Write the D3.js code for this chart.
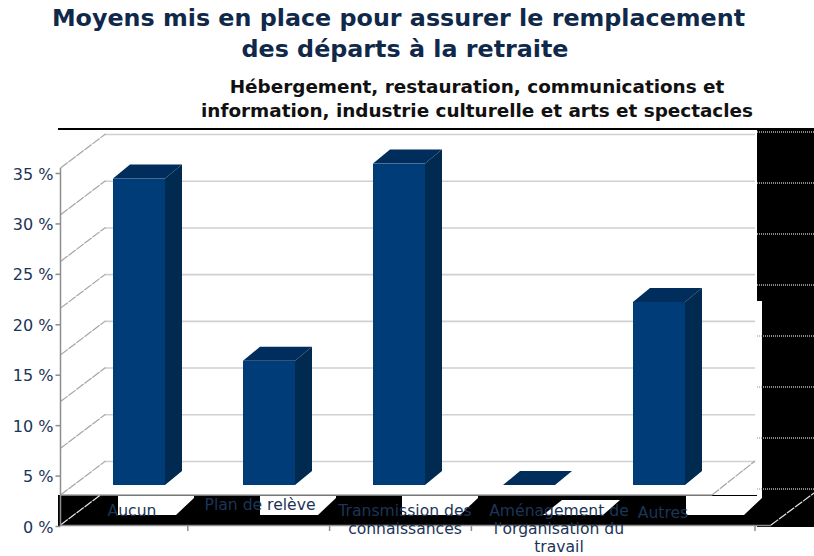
<!DOCTYPE html>
<html><head><meta charset="utf-8">
<script src="https://cdnjs.cloudflare.com/ajax/libs/d3/7.8.5/d3.min.js"></script>
<style>html,body{margin:0;padding:0;background:#fff}svg{display:block}text{font-family:"DejaVu Sans",sans-serif}</style>
</head><body><svg id="c" width="814" height="556"></svg>
<script>
const categories = ["Aucun","Plan de relève","Transmission des connaissances","Aménagement de l'organisation du travail","Autres"];
const values = [32.8,13.3,34.4,0,19.6];
const tickValues = [0,5,10,15,20,25,30,35];
const gridValues = [5,10,15,20,25,30,35,40];
const labelLines = [["Aucun"],["Plan de relève"],["Transmission des","connaissances"],["Aménagement de","l'organisation du","travail"],["Autres"]];
const labelCenter = [132,260,405,559,663];
const labelBase = [516,510,516,516,518];
const titleLines = ["Moyens mis en place pour assurer le remplacement","des départs à la retraite"];
const subtitleLines = ["Hébergement, restauration, communications et","information, industrie culturelle et arts et spectacles"];

const svg = d3.select("#c");
const navy="#003c78", sideCol="#002a50", topCol="#002d5c", textCol="#1c3557", grid="#a0a0a0";
const dx=45, dy=34;
const yFront = d3.scaleLinear().domain([0,35]).range([527,174]);
const yBar = d3.scaleLinear().domain([0,35]).range([485,158]);
const yBack = d3.scaleLinear().domain([5,40]).range([461,134]);
const yRight = d3.scaleLinear().domain([0,35]).range([540,183]);
const x = d3.scaleBand().domain(categories).range([74,724]).paddingInner(0.6).paddingOuter(0.3);
const shadowX = d3.scaleLinear().domain([0,4]).range([118,686]);
const bw = x.bandwidth(), bdx=17, bdy=14;
const floorY=495, leftX=60.5, rightX=712;

// black background blocks
svg.append("rect").attr("x",757).attr("y",129).attr("width",57).attr("height",398).attr("fill","#000");
svg.append("rect").attr("x",58).attr("y",495).attr("width",756).attr("height",31).attr("fill","#000");
svg.append("rect").attr("x",757).attr("y",301).attr("width",5).attr("height",195).attr("fill","#fff");

// white shadow shapes inside the black band
categories.forEach((c,i)=>{
  const l = shadowX(i);
  const poly = i===3
    ? [[l+18,500],[l+76,500],[l+59,515],[l-1,515]]
    : [[l,496],[l+76,496],[l+76,498],[l+58,515],[l,515]];
  svg.append("polygon").attr("points",poly.join(" ")).attr("fill","#fff");
});

// back wall gridlines
svg.append("g").selectAll("line").data(gridValues).join("line")
  .attr("x1",leftX+dx).attr("x2",755).attr("y1",d=>yBack(d)+.5).attr("y2",d=>yBack(d)+.5)
  .attr("stroke",grid).attr("stroke-width",1.6).attr("stroke-dasharray","1 1");
// left wall diagonals
svg.append("g").selectAll("line").data(gridValues).join("line")
  .attr("x1",leftX).attr("x2",leftX+dx).attr("y1",d=>yBack(d)+dy).attr("y2",d=>yBack(d))
  .attr("stroke","#a5a5a5").attr("stroke-width",1.2).attr("stroke-dasharray","9 1");
// black-side gridlines on the right
svg.append("g").selectAll("line").data(tickValues.slice(1)).join("line")
  .attr("x1",757).attr("x2",814).attr("y1",d=>yRight(d)).attr("y2",d=>yRight(d))
  .attr("stroke","#b5b5b5").attr("stroke-width",1.6).attr("stroke-dasharray","1 1");
svg.append("line").attr("x1",757).attr("x2",814).attr("y1",132).attr("y2",132).attr("stroke","#b5b5b5").attr("stroke-width",1.6).attr("stroke-dasharray","1 1");

// floor edges
svg.append("line").attr("x1",leftX).attr("x2",rightX).attr("y1",floorY).attr("y2",floorY).attr("stroke","#a0a0a0").attr("stroke-width",1.5);
svg.append("line").attr("x1",rightX).attr("x2",rightX+43).attr("y1",floorY).attr("y2",461).attr("stroke","#a5a5a5").attr("stroke-width",1.2).attr("stroke-dasharray","9 1");
svg.append("line").attr("x1",leftX).attr("x2",leftX+40).attr("y1",525).attr("y2",495).attr("stroke","#e8e8e8").attr("stroke-width",1.2).attr("stroke-dasharray","9 1");
svg.append("line").attr("x1",771).attr("x2",814).attr("y1",525).attr("y2",493).attr("stroke","#e8e8e8").attr("stroke-width",1.2).attr("stroke-dasharray","9 1");

// axes
const yAxis = d3.axisLeft(yFront).tickValues(tickValues).tickSize(5).tickFormat(d=>d+" %");
const gy = svg.append("g").attr("transform",`translate(${leftX},0)`).call(yAxis);
gy.select(".domain").attr("stroke","#8e8e8e").attr("stroke-width",1.5).attr("d","M0,168V526");
gy.selectAll(".tick line").attr("stroke","#8e8e8e").attr("stroke-width",1.5).attr("transform","translate(0,-1)");
gy.selectAll(".tick text").attr("x",-7).attr("fill",textCol).style("font-size","16px").style("font-family","'DejaVu Sans',sans-serif");

svg.append("line").attr("x1",leftX).attr("x2",771).attr("y1",525.5).attr("y2",525.5).attr("stroke","#8e8e8e").attr("stroke-width",1.5);
const tickX = d3.scaleLinear().domain([0,5]).range([46,755]);
svg.append("g").selectAll("line").data([1,2,3,5]).join("line")
  .attr("x1",d=>tickX(d)).attr("x2",d=>tickX(d)).attr("y1",525).attr("y2",531)
  .attr("stroke","#8e8e8e").attr("stroke-width",1.5);

// bars
const bars = svg.append("g").selectAll("g").data(categories).join("g");
bars.append("polygon").attr("fill",sideCol).attr("points",(c,i)=>{
  const r=x(c)+bw, t=yBar(values[i]), b=yBar(0);
  return [[r,t],[r+bdx,t-bdy],[r+bdx,b-bdy],[r,b]].join(" ");
});
bars.append("polygon").attr("fill",topCol).attr("points",(c,i)=>{
  const l=x(c), r=l+bw, t=yBar(values[i]);
  return [[l,t],[l+bdx,t-bdy],[r+bdx,t-bdy],[r,t]].join(" ");
});
bars.append("rect").attr("fill",navy).attr("x",c=>x(c)).attr("width",bw)
  .attr("y",(c,i)=>yBar(values[i])).attr("height",(c,i)=>yBar(0)-yBar(values[i]));

// category labels
const labels = svg.append("g").selectAll("text").data(categories).join("text")
  .attr("text-anchor","middle").attr("fill",textCol).style("font-size","15.6px");
labels.each(function(c,i){
  d3.select(this).selectAll("tspan").data(labelLines[i]).join("tspan")
    .attr("x",labelCenter[i]).attr("y",(d,j)=>labelBase[i]+j*18.2).text(d=>d);
});

// titles
svg.append("line").attr("x1",58).attr("x2",814).attr("y1",129).attr("y2",129).attr("stroke","#000").attr("stroke-width",2);
svg.append("g").selectAll("text").data(titleLines).join("text")
  .attr("x",(d,i)=>i?405:398.5).attr("y",(d,i)=>26+i*30.5).attr("text-anchor","middle")
  .attr("fill","#10294a").style("font-size","23.8px").style("font-weight","bold").text(d=>d);
svg.append("g").selectAll("text").data(subtitleLines).join("text")
  .attr("x",477).attr("y",(d,i)=>93+i*24).attr("text-anchor","middle")
  .attr("fill","#111").style("font-size","18.4px").style("font-weight","bold").text(d=>d);
</script></body></html>
